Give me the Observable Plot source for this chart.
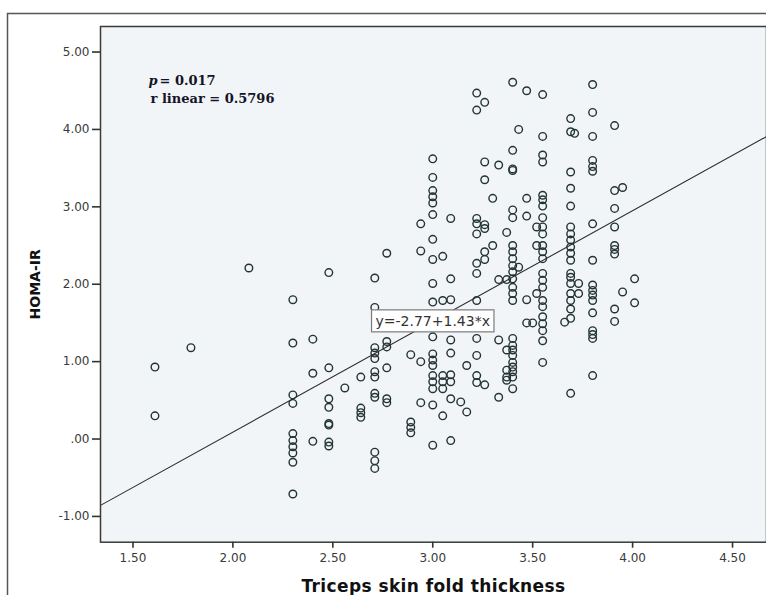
<!DOCTYPE html>
<html><head><meta charset="utf-8">
<script src="https://cdn.jsdelivr.net/npm/d3@7"></script>
<script src="https://cdn.jsdelivr.net/npm/@observablehq/plot@0.6"></script>
<style>
body{margin:0;background:#fff;}
#chart{position:relative;width:766px;height:595px;overflow:hidden;}
</style>
</head><body><div id="chart"></div>
<script>
// Triceps skin fold thickness (log scale values) — distinct levels
const xLevels = [1.61, 1.79, 2.08, 2.30, 2.40, 2.48, 2.56, 2.64, 2.71, 2.77, 2.89, 2.94, 3.00, 3.05, 3.09, 3.14, 3.17, 3.22, 3.26, 3.30, 3.33, 3.37, 3.40, 3.43, 3.47, 3.50, 3.52, 3.55, 3.66, 3.69, 3.71, 3.73, 3.80, 3.91, 3.95, 4.01];
// HOMA-IR values observed at each level
const homaByLevel = [
  [0.93, 0.30],
  [1.18],
  [2.21],
  [1.80, 1.24, 0.57, 0.46, 0.07, -0.02, -0.10, -0.18, -0.30, -0.71],
  [1.29, 0.85, -0.03],
  [2.15, 0.92, 0.52, 0.41, 0.20, 0.18, -0.04, -0.09],
  [0.66],
  [0.80, 0.40, 0.34, 0.28],
  [2.08, 1.70, 1.18, 1.11, 1.04, 0.87, 0.80, 0.59, 0.54, -0.17, -0.28, -0.38],
  [2.40, 1.26, 1.19, 0.92, 0.52, 0.47],
  [1.09, 0.22, 0.15, 0.08],
  [2.78, 2.43, 1.00, 0.47],
  [3.62, 3.38, 3.21, 3.13, 3.05, 2.90, 2.58, 2.32, 2.01, 1.77, 1.32, 1.10, 1.02, 0.95, 0.82, 0.74, 0.65, 0.44, -0.08],
  [2.36, 1.79, 0.82, 0.74, 0.65, 0.30],
  [2.85, 2.07, 1.80, 1.28, 1.11, 0.83, 0.74, 0.52, -0.02],
  [0.48],
  [0.95, 0.35],
  [4.47, 4.25, 2.85, 2.78, 2.65, 2.27, 2.14, 1.79, 1.30, 1.08, 0.82, 0.73],
  [4.35, 3.58, 3.35, 2.77, 2.72, 2.42, 2.32, 0.70],
  [3.11, 2.50],
  [3.54, 2.06, 1.28, 0.54],
  [2.67, 2.06, 1.15, 0.89, 0.80, 0.76],
  [4.61, 3.73, 3.49, 3.47, 2.96, 2.86, 2.50, 2.42, 2.33, 2.24, 2.16, 2.07, 1.96, 1.88, 1.79, 1.30, 1.21, 1.15, 1.08, 0.99, 0.93, 0.87, 0.80, 0.65],
  [4.00, 2.22],
  [4.50, 3.11, 2.88, 1.80, 1.50],
  [1.50],
  [2.74, 2.50, 1.88],
  [4.45, 3.91, 3.67, 3.58, 3.15, 3.09, 3.01, 2.86, 2.74, 2.65, 2.50, 2.42, 2.33, 2.14, 2.05, 1.96, 1.79, 1.71, 1.58, 1.49, 1.40, 1.27, 0.99],
  [1.51],
  [4.14, 3.97, 3.45, 3.24, 3.01, 2.74, 2.65, 2.57, 2.48, 2.40, 2.31, 2.14, 2.09, 2.01, 1.88, 1.79, 1.68, 1.56, 0.59],
  [3.95],
  [2.01, 1.88],
  [4.58, 4.22, 3.91, 3.60, 3.52, 3.46, 2.78, 2.31, 1.99, 1.92, 1.86, 1.79, 1.63, 1.40, 1.35, 1.30, 0.82],
  [4.05, 3.21, 2.98, 2.74, 2.50, 2.45, 2.39, 1.68, 1.52],
  [3.25, 1.90],
  [2.07, 1.76]
];
const xTicks = [1.5, 2.0, 2.5, 3.0, 3.5, 4.0, 4.5];
const yTicks = [-1, 0, 1, 2, 3, 4, 5];
const intercept = -2.77;
const slope = 1.43;
const eqAtX = 3.0;
const pText = "= 0.017";
const rText = "r linear = 0.5796";
const xTitle = "Triceps skin fold thickness";
const yTitle = "HOMA-IR";

const points = xLevels.flatMap((x, i) => homaByLevel[i].map(y => ({x, y})));
const xDomain = [1.3375, 4.67];
const yDomain = [-1.333, 5.33];
const fitLine = xDomain.map(x => ({x, y: intercept + slope * x}));
const eqString = `y=${intercept}+${slope}*x`;
const eqLabel = [{x: eqAtX, y: intercept + slope * eqAtX, text: eqString}];
const fmtY = d => d === 0 ? ".00" : d.toFixed(2);

const plot = Plot.plot({
  width: 766, height: 595,
  marginLeft: 100, marginRight: 0, marginTop: 26, marginBottom: 53.3,
  style: {background: "transparent", fontFamily: "DejaVu Sans", fontSize: "12px", color: "#333"},
  x: {domain: xDomain},
  y: {domain: yDomain},
  marks: [
    Plot.frame({fill: "#f2f5f7", stroke: null}),
    Plot.line(fitLine, {x: "x", y: "y", stroke: "#2d2d2d", strokeWidth: 1.1}),
    Plot.dot(points, {x: "x", y: "y", r: 3.8, stroke: "#233333", strokeWidth: 1.4, fill: "none"}),
    Plot.text(eqLabel, {x: "x", y: "y", text: "text", fontFamily: "DejaVu Sans", fontSize: 14, fill: "#333"}),
    Plot.frame({stroke: "#3a3a3a", strokeWidth: 1.5}),
    Plot.axisX({ticks: xTicks, tickFormat: d => d.toFixed(2), tickSize: 6, tickPadding: 5, strokeWidth: 1.6, label: null, fill: "#3a3a3a"}),
    Plot.axisY({ticks: yTicks, tickFormat: fmtY, tickSize: 8, tickPadding: 3, strokeWidth: 1.6, label: null, fill: "#3a3a3a"}),
    Plot.text(["p"], {frameAnchor: "top-left", dx: 48, dy: 49, fontFamily: "DejaVu Serif", fontWeight: "bold", fontStyle: "italic", fontSize: 13, fill: "#141428", textAnchor: "start", lineAnchor: "top"}),
    Plot.text([pText], {frameAnchor: "top-left", dx: 59, dy: 49, fontFamily: "DejaVu Serif", fontWeight: "bold", fontSize: 13, fill: "#141428", textAnchor: "start", lineAnchor: "top"}),
    Plot.text([rText], {frameAnchor: "top-left", dx: 50, dy: 67, fontFamily: "DejaVu Serif", fontWeight: "bold", fontSize: 13, fill: "#141428", textAnchor: "start", lineAnchor: "top"}),
    Plot.text([xTitle], {frameAnchor: "bottom", dy: 50, fontFamily: "DejaVu Sans", fontWeight: "bold", fontSize: 17, fill: "#111", lineAnchor: "bottom"}),
    Plot.text([yTitle], {frameAnchor: "left", dx: -65, rotate: -90, textAnchor: "middle", lineAnchor: "middle", fontFamily: "DejaVu Sans", fontWeight: "bold", fontSize: 14, fill: "#111"})
  ]
});
document.getElementById("chart").appendChild(plot);

// letter spacing on x title
d3.select(plot).selectAll("text").filter(function() { return this.textContent === xTitle; })
  .style("letter-spacing", "0.4px");

// white box behind the regression equation label (same transform as the text)
d3.select(plot).selectAll("text").filter(function() { return this.textContent === eqString; }).each(function() {
  const b = this.getBBox();
  d3.select(this.parentNode).insert("rect", () => this)
    .attr("transform", this.getAttribute("transform"))
    .attr("x", b.x - 4).attr("y", b.y - 3)
    .attr("width", b.width + 8).attr("height", b.height + 6)
    .attr("fill", "#fff").attr("stroke", "#7a7a7a").attr("stroke-width", 1.2);
});

// outer figure border
d3.select(plot).append("rect")
  .attr("x", 7.5).attr("y", 13.5).attr("width", 800).attr("height", 800)
  .attr("fill", "none").attr("stroke", "#555").attr("stroke-width", 1.5);
</script>
</body></html>
